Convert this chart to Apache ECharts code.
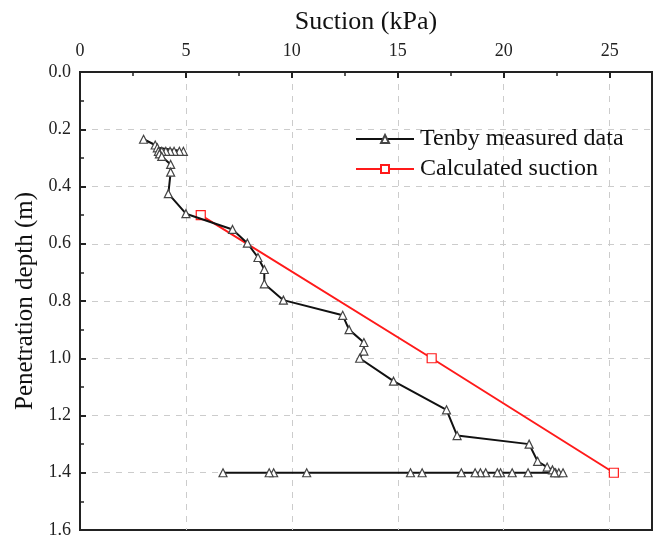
<!DOCTYPE html>
<html>
<head>
<meta charset="utf-8">
<script src="https://cdn.jsdelivr.net/npm/echarts@6/dist/echarts.min.js"></script>
<style>
html,body{margin:0;padding:0;background:#fff;}
#chart{width:660px;height:543px;}
</style>
</head>
<body>
<div id="chart"></div>
<script>
// suction (kPa), depth (m) pairs
var measuredSuction = [3.0, 3.55, 3.65, 4.88, 4.69, 4.44, 4.25, 4.05, 3.86, 3.7, 3.75, 3.86, 4.28, 4.28, 4.17, 5.0,
	7.2, 7.9, 8.4, 8.7, 8.7, 9.6, 12.4, 12.7, 13.4, 13.4, 13.2, 14.8, 17.3, 17.8, 21.2, 21.6, 22.05, 22.3, 22.45, 22.6, 22.8,
	22.4, 21.15, 20.4, 19.85, 19.7, 19.15, 18.9, 18.65, 18.0, 16.15, 15.6, 10.7, 9.14, 8.93, 6.75];
var measuredDepth = [0.235, 0.255, 0.265, 0.277, 0.277, 0.277, 0.277, 0.277, 0.277, 0.277, 0.286, 0.295, 0.323, 0.35, 0.425, 0.495,
	0.55, 0.598, 0.648, 0.69, 0.74, 0.797, 0.85, 0.9, 0.945, 0.975, 1.0, 1.08, 1.18, 1.27, 1.3, 1.36, 1.38, 1.39, 1.4, 1.4, 1.4,
	1.4, 1.4, 1.4, 1.4, 1.4, 1.4, 1.4, 1.4, 1.4, 1.4, 1.4, 1.4, 1.4, 1.4, 1.4];
var calcSuction = [5.7, 16.6, 25.2];
var calcDepth = [0.5, 1.0, 1.4];

var serif = 'Liberation Serif';

function pairs(xs, ys){
	var out = [];
	for(var i = 0; i < xs.length; i++){
		out.push([xs[i], ys[i]]);
	}
	return out;
}

var myChart = echarts.init(document.getElementById('chart'));
var option = {
	animation: false,
	grid: {
		left: 80, right: 8, top: 72, bottom: 13,
		containLabel: false,
		outerBoundsMode: 'none',
		show: true,
		borderColor: '#222',
		borderWidth: 2,
		backgroundColor: 'transparent'
	},
	legend: {
		orient: 'vertical',
		left: 350,
		top: 122,
		itemWidth: 58,
		itemHeight: 10,
		itemGap: 6,
		textStyle: {fontFamily: serif, fontSize: 24, color: '#111', padding: [0, 0, 0, 1]},
		data: ['Tenby measured data', 'Calculated suction']
	},
	xAxis: {
		type: 'value',
		position: 'top',
		min: 0, max: 27, interval: 5,
		name: 'Suction (kPa)',
		nameLocation: 'middle',
		nameGap: 37,
		nameTextStyle: {fontFamily: serif, fontSize: 26, color: '#111'},
		axisLine: {show: true, lineStyle: {color: '#222', width: 2}},
		axisTick: {show: true, inside: true, length: 6, lineStyle: {color: '#222', width: 2}},
		minorTick: {show: true, splitNumber: 2, length: 4, lineStyle: {color: '#222', width: 1.5}},
		axisLabel: {fontFamily: serif, fontSize: 18, color: '#222', margin: 12, showMaxLabel: false},
		splitLine: {show: true, showMinLine: false, showMaxLine: false, lineStyle: {color: '#ccc', type: [6, 6], width: 1}}
	},
	yAxis: {
		type: 'value',
		inverse: true,
		min: 0, max: 1.6, interval: 0.2,
		name: 'Penetration depth (m)',
		nameLocation: 'middle',
		nameGap: 42,
		nameTextStyle: {fontFamily: serif, fontSize: 25, color: '#111'},
		axisLine: {show: true, lineStyle: {color: '#222', width: 2}},
		axisTick: {show: true, inside: true, length: 6, lineStyle: {color: '#222', width: 2}},
		minorTick: {show: true, splitNumber: 2, length: 4, lineStyle: {color: '#222', width: 1.5}},
		axisLabel: {
			fontFamily: serif, fontSize: 18, color: '#222', margin: 9,
			formatter: function(v){ return v.toFixed(1); }
		},
		splitLine: {show: true, showMinLine: false, showMaxLine: false, lineStyle: {color: '#ccc', type: [6, 6], width: 1}}
	},
	series: [
		{
			name: 'Tenby measured data',
			type: 'line',
			data: pairs(measuredSuction, measuredDepth),
			symbol: 'triangle',
			symbolSize: 8,
			lineStyle: {color: '#111', width: 2},
			itemStyle: {color: '#fff', borderColor: '#444', borderWidth: 1.2},
			z: 3
		},
		{
			name: 'Calculated suction',
			type: 'line',
			data: pairs(calcSuction, calcDepth),
			symbol: 'rect',
			symbolSize: 9,
			lineStyle: {color: '#ff1a1a', width: 2},
			itemStyle: {color: '#fff', borderColor: '#ff1a1a', borderWidth: 1.2},
			z: 2
		}
	]
};
myChart.setOption(option);
</script>
</body>
</html>
